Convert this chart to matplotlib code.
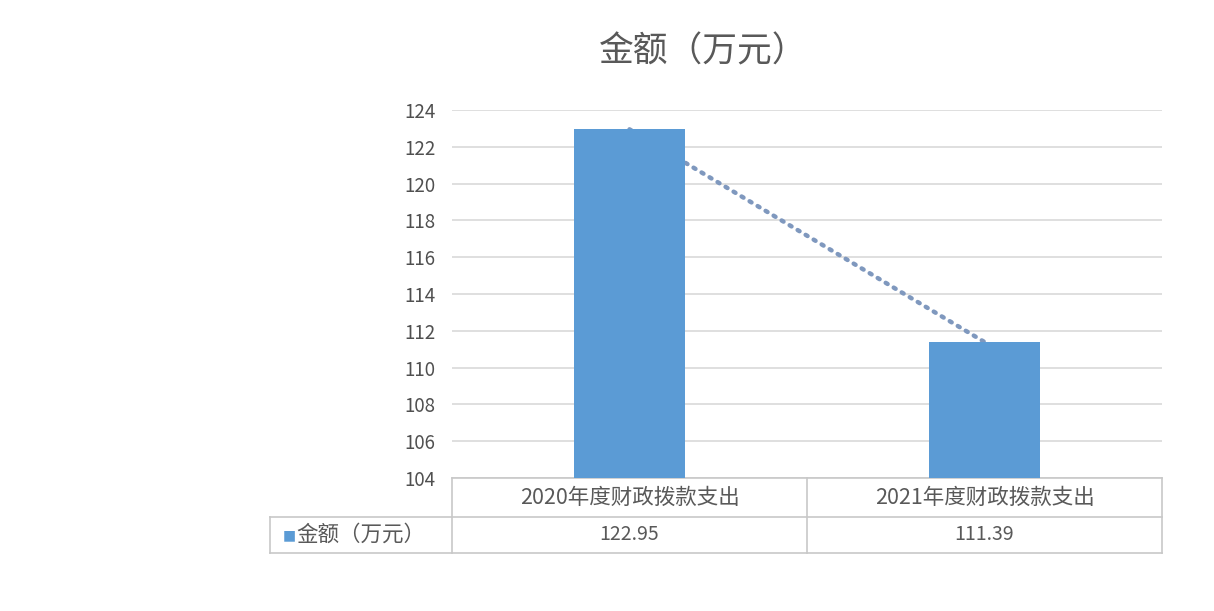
import numpy as np
import matplotlib
matplotlib.use('Agg')
import matplotlib.pyplot as plt

plt.rcParams['font.family'] = ['Noto Sans CJK SC', 'DejaVu Sans']

# data
title = '金额（万元）'
categories = ['2020年度财政拨款支出', '2021年度财政拨款支出']
values = [122.95, 111.39]
series_name = '金额（万元）'
value_labels = ['122.95', '111.39']
y_ticks = list(range(104, 125, 2))

bar_color = '#5B9BD5'
trend_color = '#7F98BE'
grid_color = '#D9D9D9'
text_color = '#595959'

fig = plt.figure(figsize=(12.14, 6.11), dpi=100)
fig.patch.set_facecolor('white')
ax = fig.add_axes([452 / 1214, 1 - 478 / 611, 710 / 1214, 368 / 611])

x = np.arange(len(categories))
ax.bar(x, values, width=0.315, color=bar_color, zorder=3)

# linear trendline (dotted), sits behind the bars
coef = np.polyfit(x, values, 1)
ax.plot(x, np.polyval(coef, x), linestyle=(0, (0.5, 1.6)), lw=3.2,
        color=trend_color, zorder=2, dash_capstyle='round')

ax.set_xlim(-0.5, len(categories) - 0.5)
ax.set_ylim(y_ticks[0], y_ticks[-1])
ax.set_yticks(y_ticks)
ax.set_yticklabels([str(t) for t in y_ticks], fontsize=13.5, color='#505050')
ax.set_xticks([])
ax.tick_params(axis='y', length=0, pad=12)
ax.grid(axis='y', color=grid_color, lw=1.2, zorder=0)
for s in ax.spines.values():
    s.set_visible(False)

fig.text(703 / 1214, 1 - 52 / 611, title, fontsize=25, color=text_color,
         ha='center', va='center')

# data table under the plot
trans = ax.get_xaxis_transform()
h1 = 39 / 368
h2 = 75 / 368
left = -0.5
right = len(categories) - 0.5
label_left = left - 182 / 355
tc = '#C8C8C8'
kw = dict(transform=trans, color=tc, lw=1.2, clip_on=False)
ax.plot([left, right], [0, 0], **kw)
ax.plot([label_left, right], [-h1, -h1], **kw)
ax.plot([label_left, right], [-h2, -h2], **kw)
ax.plot([label_left, label_left], [-h1, -h2], **kw)
for xv in np.arange(len(categories) + 1) - 0.5:
    ax.plot([xv, xv], [0, -h2], **kw)

for i, (cat, lab) in enumerate(zip(categories, value_labels)):
    ax.text(i, -h1 / 2, cat, transform=trans, ha='center', va='center',
            fontsize=15.5, color=text_color)
    ax.text(i, -(h1 + h2) / 2, lab, transform=trans, ha='center', va='center',
            fontsize=14, color=text_color)

ax.text(label_left + 0.035, -(h1 + h2) / 2, '■', transform=trans, ha='left',
        va='center', fontsize=10, color=bar_color, family='DejaVu Sans')
ax.text(label_left + 0.075, -(h1 + h2) / 2, series_name, transform=trans,
        ha='left', va='center', fontsize=15.5, color=text_color)

fig.savefig('out.png', dpi=100)
